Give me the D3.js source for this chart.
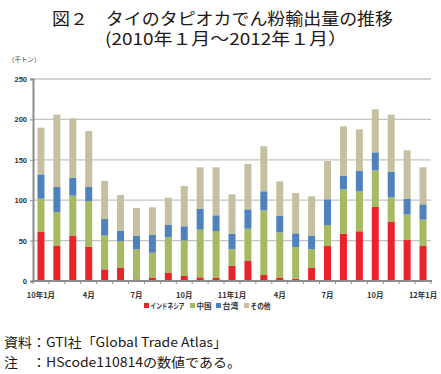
<!DOCTYPE html>
<html><head><meta charset="utf-8">
<script src="https://cdn.jsdelivr.net/npm/d3@7"></script>
<style>
html,body{margin:0;padding:0;background:#fff;}
svg{display:block;}
text{font-family:"Noto Sans CJK JP","Noto Sans",sans-serif;}
</style></head><body>
<svg id="c" width="441" height="374"></svg>
<script>
const months = ["10年1月","2","3","4月","5","6","7月","8","9","10月","11","12",
  "11年1月","2","3","4月","5","6","7月","8","9","10月","11","12","12年1月"];
const tickLabelIdx = [0,3,6,9,12,15,18,21,24];
const seriesNames = ["インドネシア","中国","台湾","その他"];
const indonesia = [60.6,43.3,55.7,42.1,14.4,16.1,2.0,3.7,9.9,6.2,4.5,3.7,18.6,24.8,7.4,3.7,2.9,16.1,43.3,58.2,61.5,91.6,73.0,50.7,43.3];
const china     = [41.3,42.1,49.9,56.9,42.1,33.4,37.2,31.3,44.6,44.1,59.0,58.2,20.6,40.0,80.1,56.5,39.2,23.1,26.0,55.2,49.5,45.4,30.5,31.8,32.6];
const taiwan    = [30.1,30.9,21.9,17.3,20.2,12.4,16.9,21.9,14.8,17.4,25.6,19.4,19.0,23.9,23.5,20.2,16.9,16.5,31.8,16.6,25.1,22.2,31.4,19.0,19.0];
const others    = [57.8,89.6,73.8,69.3,47.1,44.5,34.2,34.3,33.8,49.9,51.6,59.4,49.1,56.1,55.7,42.9,49.9,49.1,47.4,61.4,51.6,53.3,71.0,60.2,45.8];
const yTicks = [0,50,100,150,200,250];
const colors = ["#e8232a","#a6b963","#4f81bd","#c5c0a0"];

const svg = d3.select("#c");
const rows = months.map((m,i)=>({i, s0:indonesia[i], s1:china[i], s2:taiwan[i], s3:others[i]}));
const stack = d3.stack().keys(["s0","s1","s2","s3"])(rows);

const x = d3.scaleBand().domain(d3.range(months.length)).range([33,431]).paddingInner(0.56).paddingOuter(0.28);
const y = d3.scaleLinear().domain([0,250]).range([281,79]);

// title (one text element, two lines)
const title = svg.append("text").attr("font-size",16.5).attr("fill","#231815");
title.append("tspan").attr("x",52).attr("y",25)
  .attr("textLength",341).attr("lengthAdjust","spacingAndGlyphs")
  .text("図２　タイのタピオカでん粉輸出量の推移");
title.append("tspan").attr("x",105).attr("y",44.5)
  .attr("textLength",242).attr("lengthAdjust","spacingAndGlyphs")
  .text("(2010年１月～2012年１月）");
svg.append("text").attr("x",8).attr("y",62).attr("font-size",6.5).attr("fill","#333").text("（千トン）");

// gridlines
svg.append("g").selectAll("line").data(yTicks.filter(d=>d>0)).join("line")
  .attr("x1",33).attr("x2",431).attr("y1",d=>y(d)).attr("y2",d=>y(d))
  .attr("stroke","#c4c4c4").attr("stroke-width",1.3);

// y axis
const ya = svg.append("g").attr("transform","translate(33,0)")
  .call(d3.axisLeft(y).tickValues(yTicks).tickSize(3).tickPadding(3));
ya.select(".domain").attr("stroke","#8c8c8c").attr("stroke-width",2);
ya.selectAll(".tick line").attr("stroke","#8c8c8c");
ya.selectAll(".tick text").attr("font-size",7.5).attr("font-weight","bold").attr("fill","#333")
  .style("font-family","Liberation Sans, Arial, sans-serif");

// bars
svg.append("g").selectAll("g").data(stack).join("g").attr("fill",(d,k)=>colors[k])
  .selectAll("rect").data(d=>d).join("rect")
  .attr("x",d=>x(d.data.i)).attr("width",x.bandwidth())
  .attr("y",d=>y(d[1])).attr("height",d=>y(d[0])-y(d[1]));

// x axis
const xa = svg.append("g").attr("transform","translate(0,281)");
xa.append("line").attr("x1",32).attr("x2",432).attr("y1",0).attr("y2",0)
  .attr("stroke","#8c8c8c").attr("stroke-width",2);
const bounds = d3.range(months.length+1).map(i=> i<months.length ? x(i)-x.step()*x.paddingInner()/2 : x(i-1)+x.bandwidth()+x.step()*x.paddingInner()/2);
xa.selectAll("line.tk").data(bounds).join("line").attr("class","tk")
  .attr("x1",d=>d).attr("x2",d=>d).attr("y1",0).attr("y2",3).attr("stroke","#8c8c8c");
xa.selectAll("text").data(tickLabelIdx).join("text")
  .attr("x",i=>x(i)+x.bandwidth()/2).attr("y",17).attr("text-anchor","middle")
  .attr("font-size",7.5).attr("font-weight","bold").attr("fill","#333").text(i=>months[i]);

// legend
const legX = [144,190,216,244];
const legW = [34,15,16,20];
const lg = svg.append("g").selectAll("g").data(seriesNames).join("g")
  .attr("transform",(d,k)=>`translate(${legX[k]},306)`);
lg.append("rect").attr("x",0).attr("y",-3).attr("width",5).attr("height",5).attr("fill",(d,k)=>colors[k]);
lg.append("text").attr("x",6.5).attr("y",2.8).attr("font-size",7.5).attr("font-weight","bold").attr("fill","#333")
  .attr("textLength",(d,k)=>legW[k]).attr("lengthAdjust","spacingAndGlyphs").text(d=>d);

// footer
svg.append("text").attr("x",4).attr("y",347).attr("font-size",13).attr("fill","#231815")
  .attr("textLength",223).attr("lengthAdjust","spacingAndGlyphs").text("資料：GTI社「Global Trade Atlas」");
svg.append("text").attr("x",4).attr("y",366.5).attr("font-size",13).attr("fill","#231815")
  .attr("textLength",237).attr("lengthAdjust","spacingAndGlyphs").text("注　：HScode110814の数値である。");
</script></body></html>
